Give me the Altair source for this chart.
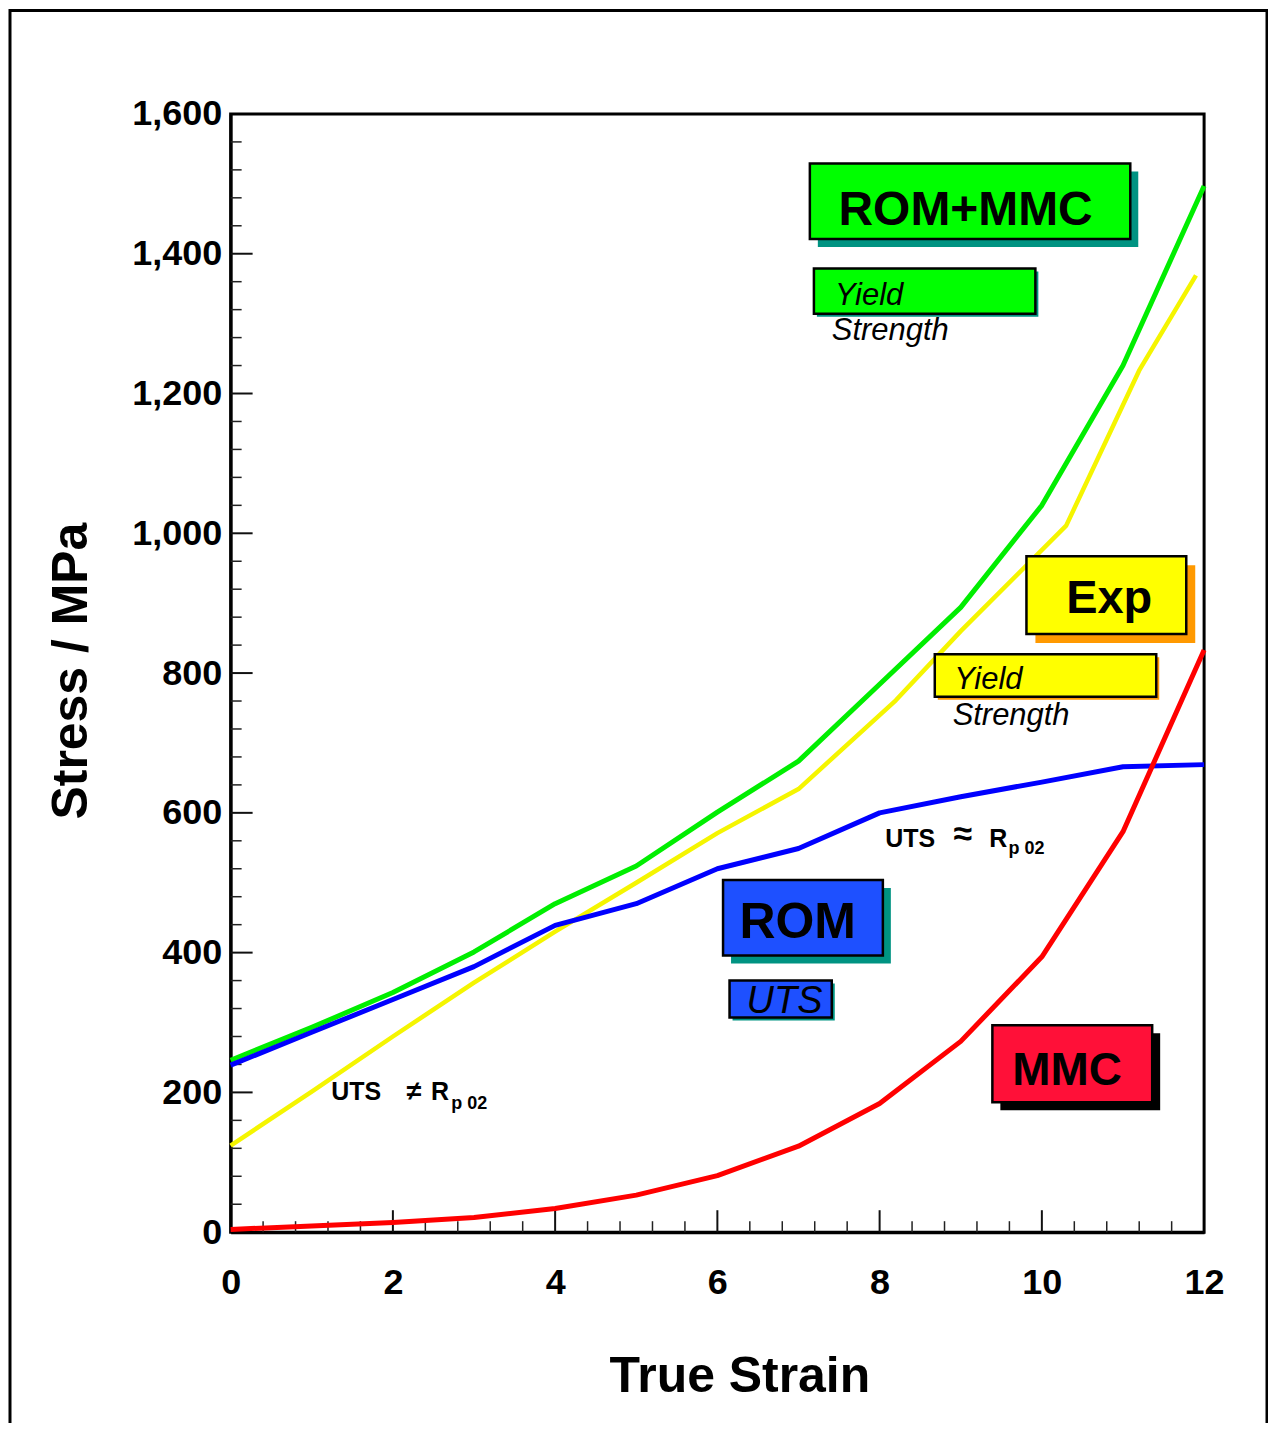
import altair as alt
import pandas as pd

# ---------------- data ----------------
strain = [0, 1, 2, 3, 4, 5, 6, 7, 8, 9, 10, 11, 12]
rom_mmc = [246, 293, 343, 401, 470, 524, 601, 674, 784, 894, 1040, 1240, 1497]
rom = [239, 286, 333, 380, 439, 470, 520, 549, 600, 623, 644, 666, 669]
mmc = [4, 9, 14, 21, 34, 53, 81, 123, 184, 273, 394, 573, 833]
exp_strain = [0, 1, 2, 3, 4, 5, 6, 7, 8.2, 9, 10.3, 11.2, 11.9]
exp_stress = [124, 201, 280, 357, 430, 500, 571, 634, 761, 860, 1011, 1233, 1369]

x_tick_values = [0, 2, 4, 6, 8, 10, 12]
y_tick_values = [0, 200, 400, 600, 800, 1000, 1200, 1400, 1600]

FONT = "Liberation Sans"
PX_X = 975 / 12.0     # px per strain unit
PX_Y = 1120 / 1600.0  # px per MPa

xs = alt.Scale(domain=[0, 12], nice=False, zero=False)
ys = alt.Scale(domain=[0, 1600], nice=False, zero=False)
xaxis = alt.Axis(values=x_tick_values, title=None, ticks=False, grid=False,
                 labelFontSize=36, labelFontWeight="bold", labelFont=FONT,
                 labelColor="black", labelPadding=33, labelFlush=False,
                 labelOverlap=False, domainColor="black", domainWidth=3,
                 format="d")
yaxis = alt.Axis(values=y_tick_values, title=None, ticks=False, grid=False,
                 labelFontSize=36, labelFontWeight="bold", labelFont=FONT,
                 labelColor="black", labelPadding=9, labelFlush=False,
                 labelOverlap=False, domainColor="black", domainWidth=3,
                 format=",d")


def X(f):
    return alt.X(f, type="quantitative", scale=xs, axis=xaxis)


def Y(f):
    return alt.Y(f, type="quantitative", scale=ys, axis=yaxis)


def line(xv, yv, color, w):
    df = pd.DataFrame({"x": xv, "y": yv})
    return alt.Chart(df).mark_line(color=color, strokeWidth=w, strokeJoin="round").encode(
        x=X("x"), y=Y("y"), order="x:Q")


lines = [
    line(exp_strain, exp_stress, "#f5f500", 4.5),
    line(strain, rom_mmc, "#00ee00", 5),
    line(strain, rom, "#0000ff", 5),
    line(strain, mmc, "#ff0000", 5),
]

# ---------------- inward ticks ----------------
x_minor = [round(i * 0.4, 1) for i in range(1, 30) if i % 5 != 0]
x_major = [2, 4, 6, 8, 10]
y_minor = [40 * i for i in range(1, 40) if i % 5 != 0]
y_major = [200, 400, 600, 800, 1000, 1200, 1400]

ticks = [
    alt.Chart(pd.DataFrame({"v": x_minor})).mark_rule(color="#222", strokeWidth=1.5).encode(
        x=X("v"), y=alt.value(1120), y2=alt.value(1109)),
    alt.Chart(pd.DataFrame({"v": x_major})).mark_rule(color="#111", strokeWidth=2).encode(
        x=X("v"), y=alt.value(1120), y2=alt.value(1098)),
    alt.Chart(pd.DataFrame({"v": y_minor})).mark_rule(color="#222", strokeWidth=1.5).encode(
        y=Y("v"), x=alt.value(0), x2=alt.value(11)),
    alt.Chart(pd.DataFrame({"v": y_major})).mark_rule(color="#111", strokeWidth=2).encode(
        y=Y("v"), x=alt.value(0), x2=alt.value(22)),
]

# ---------------- label boxes ----------------
box_x1 = [7.14, 7.19, 9.81, 8.68, 6.07, 6.15, 9.39]
box_x2 = [11.09, 9.92, 11.78, 11.41, 8.04, 7.41, 11.36]
box_y1 = [1529, 1379, 967, 827, 504, 360, 296]
box_y2 = [1421, 1314, 856, 766, 396, 307, 186]
box_fill = ["#00ff00", "#00ff00", "#ffff00", "#ffff00", "#1e50ff", "#1e50ff", "#ff1038"]
box_shadow = ["#009382", "#009382", "#ff9900", "#ff9900", "#009382", "#009382", "#000000"]
shadow_px = [8, 3, 9, 3, 8, 3, 8]

boxes = pd.DataFrame({"x1": box_x1, "x2": box_x2, "y1": box_y1, "y2": box_y2,
                      "fill": box_fill, "shadow": box_shadow, "off": shadow_px})
boxes["sx1"] = boxes["x1"] + boxes["off"] / PX_X
boxes["sx2"] = boxes["x2"] + boxes["off"] / PX_X
boxes["sy1"] = boxes["y1"] - boxes["off"] / PX_Y
boxes["sy2"] = boxes["y2"] - boxes["off"] / PX_Y

shadow_layer = alt.Chart(boxes).mark_rect().encode(
    x=X("sx1"), x2="sx2", y=Y("sy1"), y2="sy2",
    color=alt.Color("shadow:N", scale=None))
box_layer = alt.Chart(boxes).mark_rect(stroke="black", strokeWidth=2.5).encode(
    x=X("x1"), x2="x2", y=Y("y1"), y2="y2",
    color=alt.Color("fill:N", scale=None))


def texts(lbls, xv, yv, size, weight="normal", style="normal", align="left"):
    df = pd.DataFrame({"t": lbls, "x": xv, "y": yv})
    return alt.Chart(df).mark_text(font=FONT, fontSize=size, fontWeight=weight,
                                   fontStyle=style, align=align, baseline="alphabetic",
                                   color="black").encode(x=X("x"), y=Y("y"), text="t:N")


label_layers = [
    texts(["ROM+MMC"], [9.06], [1441], 48, "bold", align="center"),
    texts(["Exp"], [10.83], [886], 47, "bold", align="center"),
    texts(["ROM"], [6.99], [421], 50, "bold", align="center"),
    texts(["MMC"], [10.31], [211], 46, "bold", align="center"),
    texts(["Yield", "Strength", "Yield", "Strength"],
          [7.45, 7.41, 8.92, 8.90], [1326, 1277, 777, 726], 31, style="italic"),
    texts(["UTS"], [6.36], [314], 38, style="italic"),
    texts(["UTS", "R", "UTS", "R"], [1.24, 2.47, 8.07, 9.35], [189, 189, 551, 551], 25, "bold"),
    texts(["≠"], [2.17], [189], 27, "bold"),
    texts(["≈"], [8.91], [554], 34, "bold"),
    texts(["p 02", "p 02"], [2.72, 9.59], [176, 541], 18, "bold"),
]

# ---------------- axis titles & frame ----------------
one = pd.DataFrame({"a": [0]})
titles = [
    alt.Chart(one).mark_text(text="Stress / MPa", font=FONT, fontSize=50, fontWeight="bold",
                             angle=270, align="center", baseline="alphabetic",
                             color="black").encode(x=alt.value(-144), y=alt.value(558)),
    alt.Chart(one).mark_text(text="True Strain", font=FONT, fontSize=50, fontWeight="bold",
                             align="center", baseline="alphabetic",
                             color="black").encode(x=alt.value(510), y=alt.value(1280)),
]
frame = alt.Chart(one).mark_rect(fillOpacity=0, stroke="black", strokeWidth=3).encode(
    x=alt.value(-221), x2=alt.value(1038), y=alt.value(-103.5), y2=alt.value(1400))

chart = alt.layer(
    frame, *ticks, *lines, shadow_layer, box_layer, *label_layers, *titles
).properties(
    width=975, height=1120,
    padding={"left": 223, "top": 105, "right": 64, "bottom": 190},
    autosize="none", background="white"
).configure_view(stroke="black", strokeWidth=3)

chart.save("out.html", embed_options={"renderer": "svg", "actions": False})
